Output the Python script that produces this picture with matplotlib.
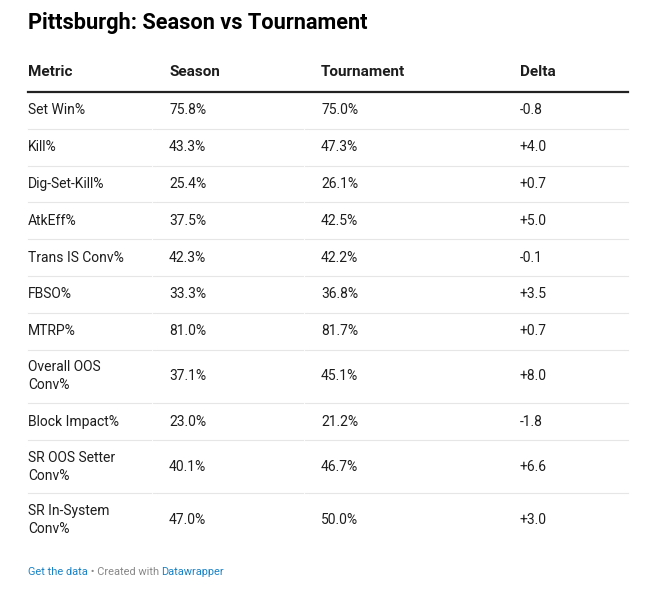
import matplotlib.pyplot as plt
from matplotlib.lines import Line2D

plt.rcParams['font.family'] = ['Roboto', 'DejaVu Sans']

title = 'Pittsburgh: Season vs Tournament'
columns = ['Metric', 'Season', 'Tournament', 'Delta']
metrics = ['Set Win%', 'Kill%', 'Dig-Set-Kill%', 'AtkEff%', 'Trans IS Conv%',
           'FBSO%', 'MTRP%', 'Overall OOS\nConv%', 'Block Impact%',
           'SR OOS Setter\nConv%', 'SR In-System\nConv%']
season = [75.8, 43.3, 25.4, 37.5, 42.3, 33.3, 81.0, 37.1, 23.0, 40.1, 47.0]
tournament = [75.0, 47.3, 26.1, 42.5, 42.2, 36.8, 81.7, 45.1, 21.2, 46.7, 50.0]
delta = [-0.8, 4.0, 0.7, 5.0, -0.1, 3.5, 0.7, 8.0, -1.8, 6.6, 3.0]

W, H = 658, 599
fig = plt.figure(figsize=(W / 100, H / 100), dpi=100)
fig.patch.set_facecolor('white')


def fx(px):
    return px / W


def fy(py):  # pixel from top -> figure fraction
    return 1 - py / H


col_x = [28, 169, 321, 520]
left, right = 28, 628
seg_breaks = [(left, 151), (153, 303), (305, right)]
body = 10
ink = '#1d1d1d'

fig.text(fx(28), fy(23), title, fontsize=15.7, fontweight='bold',
         color='#000000', va='center', ha='left')

for x, c in zip(col_x, columns):
    fig.text(fx(x), fy(72), c, fontsize=11, fontweight='bold',
             color=ink, va='center', ha='left')

fig.add_artist(Line2D([fx(left), fx(right)], [fy(91.5), fy(91.5)],
                      color='#222222', lw=1.6))

y = 92
single_h, double_h = 36.8, 53.5
for i, m in enumerate(metrics):
    h = double_h if '\n' in m else single_h
    yc = y + h / 2
    fig.text(fx(col_x[0]), fy(yc), m, fontsize=body, color=ink,
             va='center', ha='left', linespacing=1.35)
    fig.text(fx(col_x[1]), fy(yc), f'{season[i]:.1f}%', fontsize=body,
             color=ink, va='center', ha='left')
    fig.text(fx(col_x[2]), fy(yc), f'{tournament[i]:.1f}%', fontsize=body,
             color=ink, va='center', ha='left')
    fig.text(fx(col_x[3]), fy(yc), f'{delta[i]:+.1f}', fontsize=body,
             color=ink, va='center', ha='left')
    y += h
    if i < len(metrics) - 1:
        for a, b in seg_breaks:
            fig.add_artist(Line2D([fx(a), fx(b)], [fy(y), fy(y)],
                                  color='#e6e6e6', lw=0.8))

# footer
renderer = fig.canvas.get_renderer()
parts = [('Get the data', '#1a83c6'), (' \u2022 Created with ', '#888888'),
         ('Datawrapper', '#1a83c6')]
x = 28
for txt, col in parts:
    t = fig.text(fx(x), fy(572), txt, fontsize=7.9, color=col,
                 va='center', ha='left')
    x += t.get_window_extent(renderer).width

fig.savefig('out.png', dpi=100, facecolor='white')
